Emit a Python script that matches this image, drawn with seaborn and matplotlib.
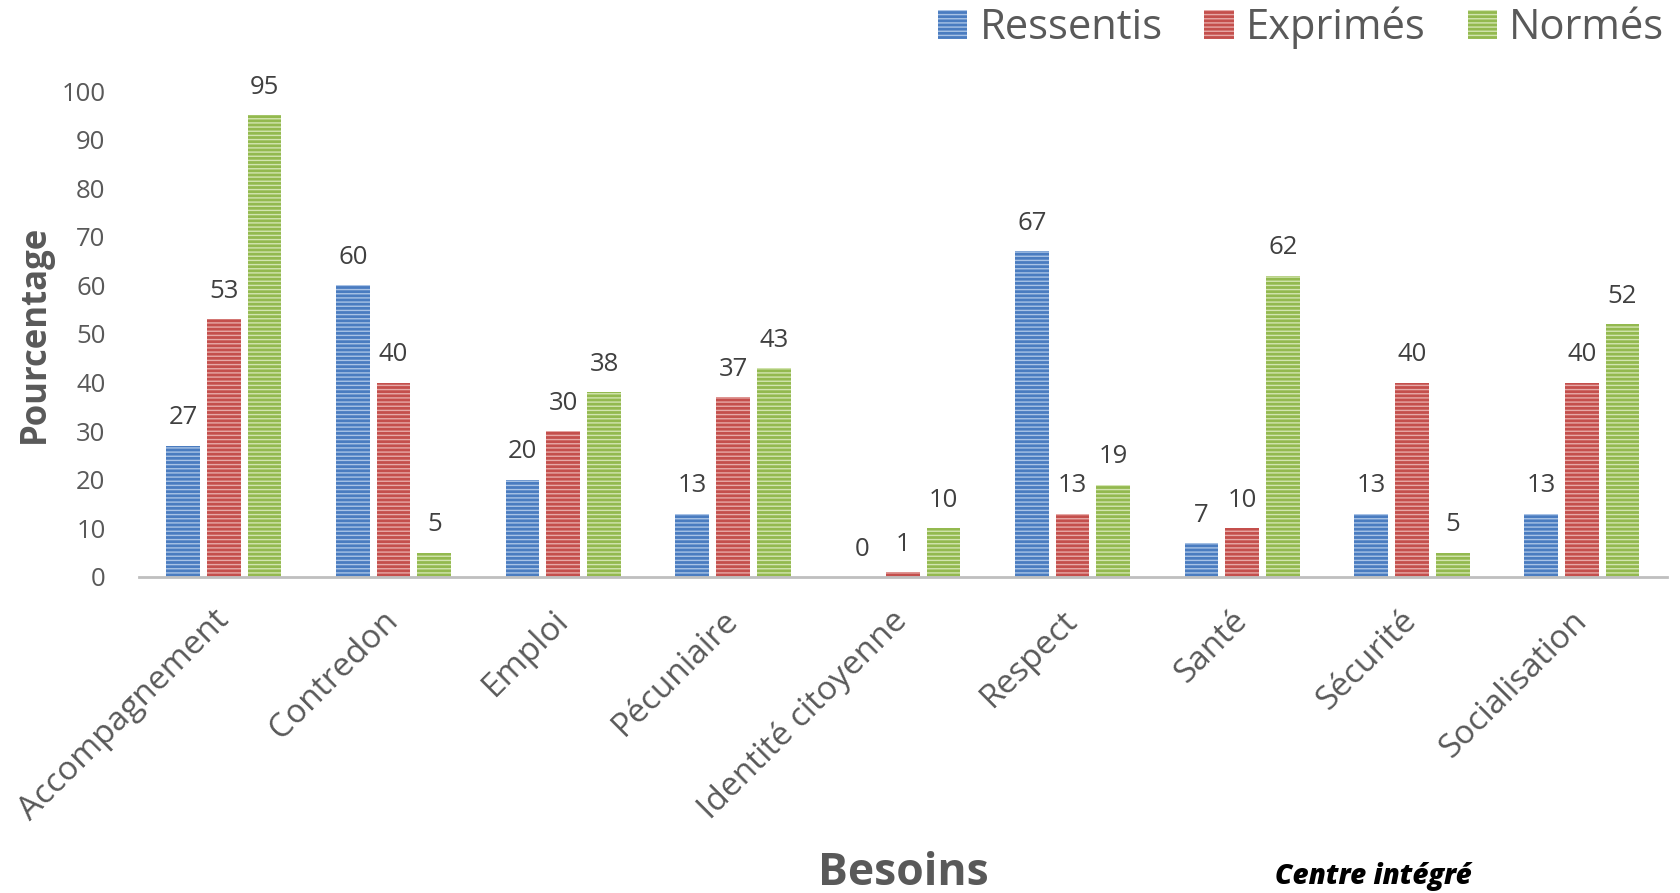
import matplotlib
matplotlib.use("Agg")
import matplotlib.pyplot as plt
from matplotlib.patches import Patch
import seaborn as sns
import pandas as pd

# Besoins par catégorie (pourcentages)
categories = ["Accompagnement", "Contredon", "Emploi", "Pécuniaire",
              "Identité citoyenne", "Respect", "Santé", "Sécurité", "Socialisation"]
ressentis = [27, 60, 20, 13, 0, 67, 7, 13, 13]
exprimes = [53, 40, 30, 37, 1, 13, 10, 40, 40]
normes = [95, 5, 38, 43, 10, 19, 62, 5, 52]
series_names = ["Ressentis", "Exprimés", "Normés"]
y_ticks = [0, 10, 20, 30, 40, 50, 60, 70, 80, 90, 100]

df = pd.DataFrame({
    "Besoins": categories * 3,
    "Type": [series_names[0]] * 9 + [series_names[1]] * 9 + [series_names[2]] * 9,
    "Pourcentage": ressentis + exprimes + normes,
})

sns.set_theme(style="white")
plt.rcParams["font.family"] = ["Open Sans", "DejaVu Sans"]
plt.rcParams["hatch.linewidth"] = 1.0

base_colors = ["#4a7cc0", "#c44f4c", "#93b94f"]
stripe_colors = ["#a9c3e6", "#e7a9a7", "#d3e5b0"]
text_color = "#595959"

fig = plt.figure(figsize=(16.8, 8.93), dpi=100)
ax = fig.add_axes([0.0827, 0.354, 0.9093, 0.544])

sns.barplot(data=df, x="Besoins", y="Pourcentage", hue="Type",
            palette=base_colors, width=0.72, gap=0.17, ax=ax,
            legend=False, errorbar=None)

for container, col, stripe in zip(ax.containers, base_colors, stripe_colors):
    for patch in container:
        patch.set_facecolor(col)
        patch.set_edgecolor(stripe)
        patch.set_hatch("----")
        patch.set_linewidth(0)
    ax.bar_label(container, fmt="%d", padding=11, fontsize=18.5, color="#404040")

ax.set_xlim(-0.5, len(categories) - 0.5)
ax.set_ylim(0, 100)
ax.set_yticks(y_ticks)
ax.tick_params(axis="y", length=0, pad=24, labelsize=18.5, labelcolor=text_color)
ax.tick_params(axis="x", length=0, pad=28)
ax.set_xticks(range(len(categories)))
ax.set_xticklabels(categories, rotation=45, ha="right", va="center",
                   rotation_mode="anchor", fontsize=24, color=text_color)

sns.despine(ax=ax, left=True, top=True, right=True)
ax.spines["bottom"].set_color("#bfbfbf")
ax.spines["bottom"].set_linewidth(2)

ax.set_ylabel("Pourcentage", fontsize=25, fontweight="bold", color=text_color, labelpad=6)
ax.set_xlabel("")
fig.text(0.5375, 0.022, "Besoins", ha="center", va="center", fontsize=32,
         fontweight="bold", color=text_color)

# Légende
handles = [Patch(facecolor=c, edgecolor=s, hatch="----", linewidth=0)
           for c, s in zip(base_colors, stripe_colors)]
leg = fig.legend(handles, series_names, loc="upper right",
                 bbox_to_anchor=(1.013, 1.035), ncol=3, frameon=False,
                 fontsize=30, handlelength=0.7, handleheight=0.7,
                 handletextpad=0.3, columnspacing=1.0)
for t in leg.get_texts():
    t.set_color(text_color)

fig.text(0.759, 0.019, "Centre intégré", ha="left", va="center", fontsize=20,
         fontweight="heavy", fontstyle="italic", color="black")

fig.savefig("out.png", dpi=100, facecolor="white")
